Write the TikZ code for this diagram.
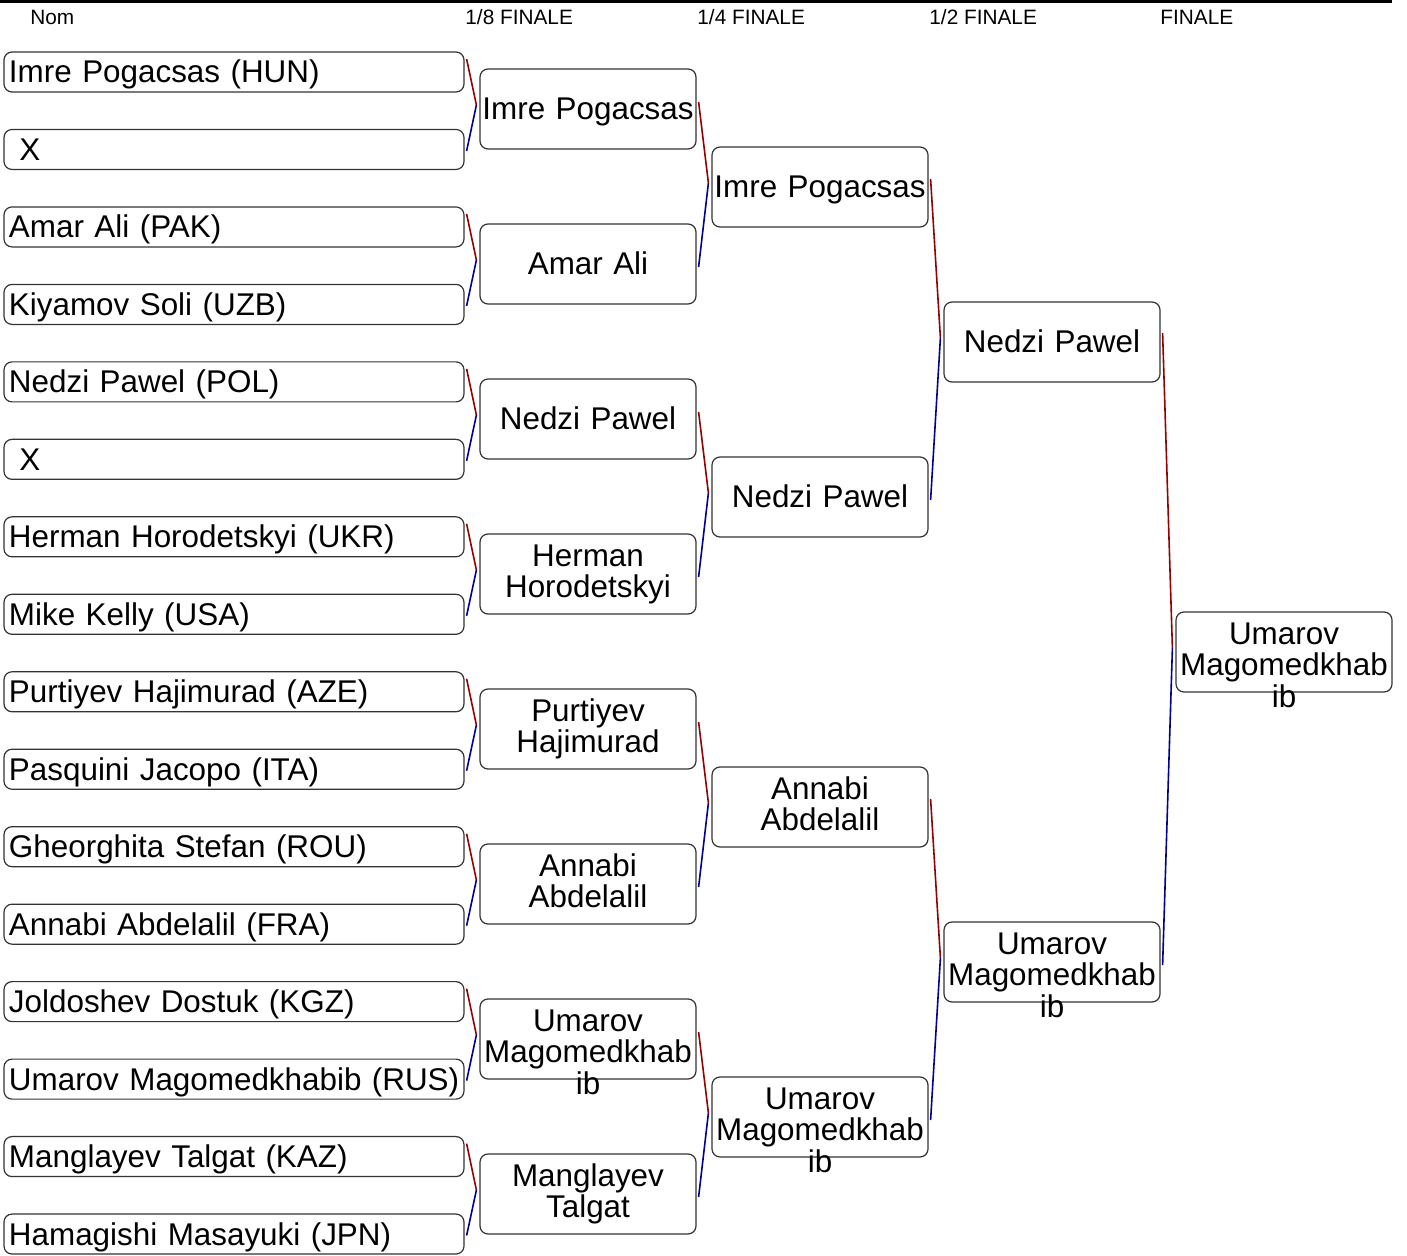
\documentclass[tikz,border=0pt]{standalone}
\usepackage{fontspec}
\setmainfont{Liberation Sans}
\usetikzlibrary{calc}

\definecolor{legred}{RGB}{150,0,0}
\definecolor{legblue}{RGB}{0,0,150}
\newcommand{\namesize}{\fontsize{15.7pt}{15.7pt}\selectfont}
\newcommand{\roundsize}{\fontsize{10.4pt}{12pt}\selectfont}

\begin{document}
\begin{tikzpicture}[x=0.5pt,y=-0.5pt,
entrant/.style={
	% The shape:
	rectangle,rounded corners=4pt,
	% The border:
	draw=black!80,line width=0.6pt,
	% The text:
	text width=225pt,inner xsep=2.5pt,inner ysep=0pt,
	text height=15.5pt,text depth=4.5pt,
	align=left,font=\namesize},
winner/.style={
	% The shape:
	rectangle,rounded corners=4pt,
	minimum width=108pt,minimum height=40pt,inner sep=0pt,
	% The border:
	draw=black!80,line width=0.6pt,
	% The text:
	text width=108pt,align=center,font=\namesize},
oneline/.style={text height=25.5pt,text depth=14.5pt},
multiline/.style={text height=16.25pt,text depth=23.75pt},
roundlbl/.style={font=\roundsize,anchor=base west,inner sep=0pt},
redleg/.style={draw=legred,line width=0.8pt},
blueleg/.style={draw=legblue,line width=0.8pt}]

\useasboundingbox (0,0) rectangle (1407,1256);

% header
\draw[line width=1.5pt] (0,2) -- (1392,2);
\node[roundlbl] (h0) at (30,25) {Nom};
\node[roundlbl] (h1) at (465,25) {1/8 FINALE};
\node[roundlbl] (h2) at (697,25) {1/4 FINALE};
\node[roundlbl] (h3) at (929,25) {1/2 FINALE};
\node[roundlbl] (h4) at (1160,25) {FINALE};

% first column: all entrants
\foreach \who [count=\i] in {Imre Pogacsas (HUN),\ X,Amar Ali (PAK),Kiyamov Soli (UZB),
	Nedzi Pawel (POL),\ X,Herman Horodetskyi (UKR),Mike Kelly (USA),
	Purtiyev Hajimurad (AZE),Pasquini Jacopo (ITA),Gheorghita Stefan (ROU),Annabi Abdelalil (FRA),
	Joldoshev Dostuk (KGZ),Umarov Magomedkhabib (RUS),Manglayev Talgat (KAZ),Hamagishi Masayuki (JPN)}
	\node[entrant] (e\i) at (234,{72+77.47*(\i-1)}) {\mbox{\who}};

% 1/8 finale
\foreach \k/\who [count=\i] in {oneline/Imre Pogacsas,oneline/Amar Ali,oneline/Nedzi Pawel,
	multiline/Herman\\Horodetskyi,multiline/Purtiyev\\Hajimurad,multiline/Annabi\\Abdelalil,
	multiline/Umarov\\Magomedkhab\\ib,multiline/Manglayev\\Talgat}
	\node[winner,\k] (q\i) at (588,{109+155*(\i-1)}) {\who};

% 1/4 finale
\foreach \k/\who [count=\i] in {oneline/Imre Pogacsas,oneline/Nedzi Pawel,
	multiline/Annabi\\Abdelalil,multiline/Umarov\\Magomedkhab\\ib}
	\node[winner,\k] (r\i) at (820,{187+310*(\i-1)}) {\who};

% 1/2 finale and finale
\node[winner,oneline] (s1) at (1052,342) {Nedzi Pawel};
\node[winner,multiline] (s2) at (1052,962) {Umarov\\Magomedkhab\\ib};
\node[winner,multiline] (f) at (1284,652) {Umarov\\Magomedkhab\\ib};

% connectors
\foreach \i in {1,...,8}{
	\pgfmathtruncatemacro{\a}{2*\i-1}
	\pgfmathtruncatemacro{\b}{2*\i}
	\draw[redleg] ([shift={(1pt,6.5pt)}]e\a.east) -- ([shift={(-1.5pt,2pt)}]q\i.west);
	\draw[blueleg] ([shift={(-1.5pt,2pt)}]q\i.west) -- ([shift={(1pt,-0.75pt)}]e\b.east);
}
\foreach \i in {1,...,4}{
	\pgfmathtruncatemacro{\a}{2*\i-1}
	\pgfmathtruncatemacro{\b}{2*\i}
	\draw[redleg] ([shift={(1pt,3.5pt)}]q\a.east) -- ([shift={(-1.5pt,2pt)}]r\i.west);
	\draw[blueleg] ([shift={(-1.5pt,2pt)}]r\i.west) -- ([shift={(1pt,-1.5pt)}]q\b.east);
}
\foreach \i in {1,2}{
	\pgfmathtruncatemacro{\a}{2*\i-1}
	\pgfmathtruncatemacro{\b}{2*\i}
	\draw[redleg] ([shift={(1pt,4pt)}]r\a.east) -- ([shift={(-1.5pt,2pt)}]s\i.west);
	\draw[blueleg] ([shift={(-1.5pt,2pt)}]s\i.west) -- ([shift={(1pt,-1.5pt)}]r\b.east);
}
\draw[redleg] ([shift={(1pt,4.5pt)}]s1.east) -- ([shift={(-1.5pt,2pt)}]f.west);
\draw[blueleg] ([shift={(-1.5pt,2pt)}]f.west) -- ([shift={(1pt,-1.5pt)}]s2.east);

\end{tikzpicture}
\end{document}
